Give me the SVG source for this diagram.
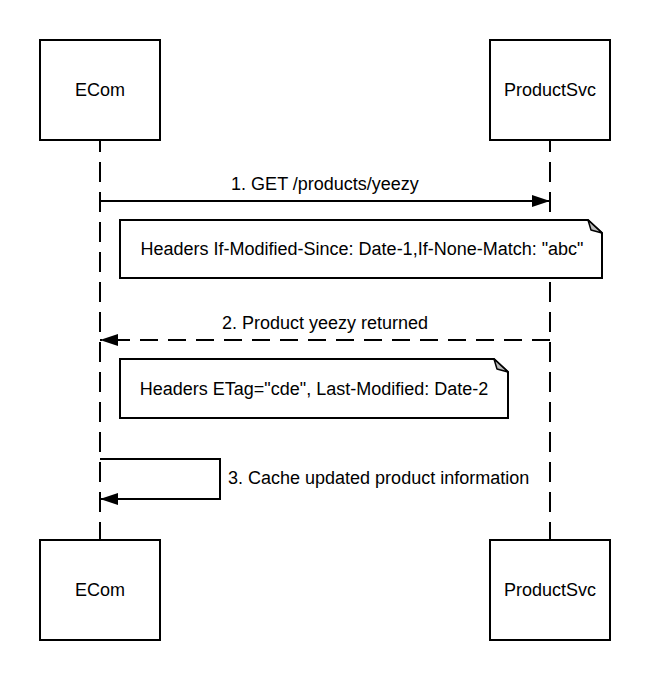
<svg xmlns="http://www.w3.org/2000/svg" width="651" height="680" viewBox="0 0 651 680">
<defs>
<style>
.box{fill:#fff;stroke:#000;stroke-width:2}
.life{fill:none;stroke:#000;stroke-width:2;stroke-dasharray:20 10;stroke-dashoffset:8}
.msg{fill:none;stroke:#000;stroke-width:2}
.dash{stroke-dasharray:18 10}
.fold{fill:#bbb;stroke:#000;stroke-width:1.5;stroke-linejoin:round}
text{font-family:"Liberation Sans",Arial,sans-serif;font-size:18px;fill:#000}
.c{text-anchor:middle}
</style>
<marker id="ah" markerUnits="userSpaceOnUse" markerWidth="18" markerHeight="12" refX="18" refY="6" orient="auto">
<path d="M0,0 L18,6 L0,12 Z" fill="#000"/>
</marker>
</defs>
<rect width="651" height="680" fill="#fff"/>
<g id="lifelines">
<line class="life" x1="100" y1="140" x2="100" y2="540"/>
<line class="life" x1="550" y1="140" x2="550" y2="540"/>
</g>
<g id="ecom-top"><rect class="box" x="40" y="40" width="120" height="100"/><text class="c" x="100" y="96">ECom</text></g>
<g id="productsvc-top"><rect class="box" x="490" y="40" width="120" height="100"/><text class="c" x="550" y="96">ProductSvc</text></g>
<g id="ecom-bottom"><rect class="box" x="40" y="540" width="120" height="100"/><text class="c" x="100" y="596">ECom</text></g>
<g id="productsvc-bottom"><rect class="box" x="490" y="540" width="120" height="100"/><text class="c" x="550" y="596">ProductSvc</text></g>
<g id="connectors">
<line class="msg" x1="100" y1="201" x2="550" y2="201" marker-end="url(#ah)"/>
<line class="msg dash" x1="550" y1="340" x2="100" y2="340" marker-end="url(#ah)"/>
<path class="msg" d="M100,459 H220 V499 H100" marker-end="url(#ah)"/>
</g>
<g id="labels">
<text class="c" x="325" y="190">1. GET /products/yeezy</text>
<text class="c" x="325" y="329">2. Product yeezy returned</text>
<text x="228" y="484">3. Cache updated product information</text>
</g>
<g id="note1">
<path class="box" d="M120,220 H588 L602,233 V278 H120 Z"/>
<path class="fold" d="M588,220 L602,233 L591,230 Z"/>
<text class="c" x="362" y="255">Headers If-Modified-Since: Date-1,If-None-Match: "abc"</text>
</g>
<g id="note2">
<path class="box" d="M120,359 H494 L508,372 V418 H120 Z"/>
<path class="fold" d="M494,359 L508,372 L497,369 Z"/>
<text class="c" x="314" y="395">Headers ETag="cde", Last-Modified: Date-2</text>
</g>
</svg>
